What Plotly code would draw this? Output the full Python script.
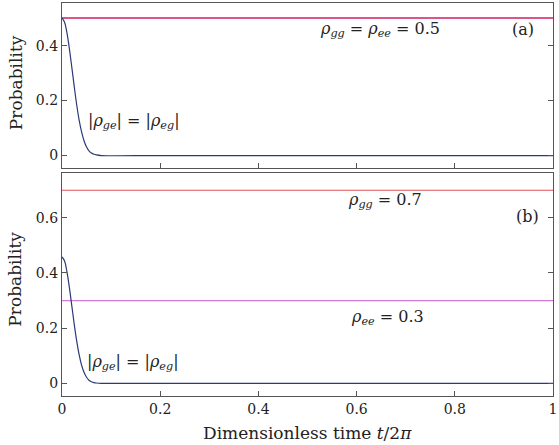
import plotly.graph_objects as go
from plotly.subplots import make_subplots

# ---- data ----
t_vals = [0, 0.005, 0.01, 0.015, 0.02, 0.025, 0.03, 0.035, 0.04, 0.045,
          0.05, 0.055, 0.06, 0.065, 0.07, 0.08, 0.2, 0.4, 0.6, 0.8, 1.0]
coh_a = [0.5, 0.486, 0.447, 0.389, 0.321, 0.25, 0.184, 0.128, 0.085, 0.053,
         0.031, 0.017, 0.009, 0.0046, 0.0022, 0.0, 0, 0, 0, 0, 0]
coh_b = [0.458, 0.444, 0.405, 0.348, 0.281, 0.213, 0.153, 0.103, 0.065, 0.039,
         0.022, 0.011, 0.0056, 0.0026, 0.0011, 0.0, 0, 0, 0, 0, 0]
t_line = [0, 1]
rho_gg_a = [0.5, 0.5]
rho_ee_a = [0.5, 0.5]
rho_gg_b = [0.7, 0.7]
rho_ee_b = [0.3, 0.3]

x_ticks = [0, 0.2, 0.4, 0.6, 0.8, 1]
x_ticklabels = ["0", "0.2", "0.4", "0.6", "0.8", "1"]
ya_ticks = [0, 0.2, 0.4]
yb_ticks = [0, 0.2, 0.4, 0.6]

FONT = "DejaVu Serif"
RED = "#e0505a"
PINK = "#dc3c6c"
MAG = "#d27ad8"
BLUE = "#2a3a78"
FRAME = "#555555"
TXT = "#222222"

fig = make_subplots(rows=2, cols=1, shared_xaxes=False, vertical_spacing=0.0)

# panel (a)
fig.add_trace(go.Scatter(x=t_line, y=rho_ee_a, mode="lines", line=dict(color=MAG, width=1.5)), row=1, col=1)
fig.add_trace(go.Scatter(x=t_line, y=rho_gg_a, mode="lines", line=dict(color=PINK, width=1.5)), row=1, col=1)
fig.add_trace(go.Scatter(x=t_vals, y=coh_a, mode="lines", line=dict(color=BLUE, width=1.2, shape="spline")), row=1, col=1)
# panel (b)
fig.add_trace(go.Scatter(x=t_line, y=rho_gg_b, mode="lines", line=dict(color=RED, width=1.2)), row=2, col=1)
fig.add_trace(go.Scatter(x=t_line, y=rho_ee_b, mode="lines", line=dict(color=MAG, width=1.2)), row=2, col=1)
fig.add_trace(go.Scatter(x=t_vals, y=coh_b, mode="lines", line=dict(color=BLUE, width=1.2, shape="spline")), row=2, col=1)

axis_common = dict(showline=True, linecolor=FRAME, linewidth=1.3, ticks="inside",
                   ticklen=5, tickcolor=FRAME, tickwidth=1, showgrid=False, zeroline=False,
                   tickfont=dict(family=FONT, size=14, color=TXT))

fig.update_layout(
    width=559, height=445,
    margin=dict(l=62, r=4, t=2, b=49),
    paper_bgcolor="white", plot_bgcolor="white",
    showlegend=False,
    font=dict(family=FONT, color=TXT),
    xaxis=dict(domain=[0, 1], range=[0, 1], tickvals=x_ticks, showticklabels=False,
               mirror=True, anchor="y", **axis_common),
    yaxis=dict(domain=[0.579, 1], range=[-0.047, 0.555], tickvals=ya_ticks,
               ticktext=["0", "0.2", "0.4"], mirror="ticks", anchor="x", **axis_common),
    xaxis2=dict(domain=[0, 1], range=[0, 1], tickvals=x_ticks, ticktext=x_ticklabels,
                mirror=True, anchor="y2", ticklabeloverflow="allow", **axis_common),
    yaxis2=dict(domain=[0, 0.5685], range=[-0.046, 0.764], tickvals=yb_ticks,
                ticktext=["0", "0.2", "0.4", "0.6"], mirror="ticks", anchor="x2", **axis_common),
)

afont = dict(family=FONT, size=16, color=TXT)
ann = [
    dict(x=0.647, y=0.458, xref="x", yref="y", text="<i>ρ</i><sub><i>gg</i></sub> = <i>ρ</i><sub><i>ee</i></sub> = 0.5"),
    dict(x=0.939, y=0.458, xref="x", yref="y", text="(a)"),
    dict(x=0.146, y=0.123, xref="x", yref="y", text="|<i>ρ</i><sub><i>ge</i></sub>| = |<i>ρ</i><sub><i>eg</i></sub>|"),
    dict(x=0.657, y=0.663, xref="x2", yref="y2", text="<i>ρ</i><sub><i>gg</i></sub> = 0.7"),
    dict(x=0.949, y=0.605, xref="x2", yref="y2", text="(b)"),
    dict(x=0.663, y=0.240, xref="x2", yref="y2", text="<i>ρ</i><sub><i>ee</i></sub> = 0.3"),
    dict(x=0.144, y=0.077, xref="x2", yref="y2", text="|<i>ρ</i><sub><i>ge</i></sub>| = |<i>ρ</i><sub><i>eg</i></sub>|"),
]
for a in ann:
    fig.add_annotation(showarrow=False, font=afont, xanchor="center", yanchor="middle", **a)

# axis titles
tfont = dict(family=FONT, size=17, color=TXT)
fig.add_annotation(x=-0.095, y=0.797, xref="paper", yref="paper", text="Probability",
                   textangle=-90, showarrow=False, xanchor="center", yanchor="middle", font=tfont)
fig.add_annotation(x=-0.095, y=0.297, xref="paper", yref="paper", text="Probability",
                   textangle=-90, showarrow=False, xanchor="center", yanchor="middle", font=tfont)
fig.add_annotation(x=0.5, y=-0.095, xref="paper", yref="paper",
                   text="Dimensionless time <i>t</i>/2<i>π</i>", showarrow=False,
                   xanchor="center", yanchor="middle", font=tfont)

fig.write_html("out.html")
